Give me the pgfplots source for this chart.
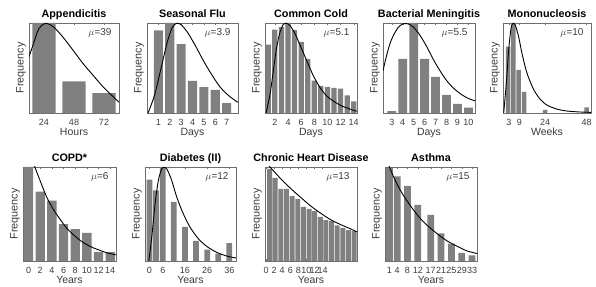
\documentclass[border=0pt]{standalone}
\usepackage{fontspec}
\setmainfont{Liberation Sans}
\usepackage{pgfplots}
\pgfplotsset{compat=1.18}
\definecolor{bargray}{RGB}{128,128,128}
\definecolor{framegray}{RGB}{110,110,110}
\definecolor{txtgray}{RGB}{60,60,60}
\pgfplotsset{
  panel/.style={
    scale only axis, ymin=0, ymax=1, ytick=\empty,
    axis line style={framegray, line width=0.5pt},
    tick align=inside, xtick pos=both, xticklabel pos=lower,
    major tick length=2pt,
    every tick/.append style={framegray, line width=0.4pt},
    xticklabel style={font=\fontsize{9}{10}\selectfont, text=txtgray, inner sep=0pt, yshift=-6pt},
    every axis x label/.style={at={(rel axis cs:0.5,0)}, anchor=north, inner sep=0pt, yshift=-15pt, font=\fontsize{10.5}{12}\selectfont, text=txtgray},
    every axis y label/.style={at={(rel axis cs:0,0.5)}, rotate=90, anchor=south, inner sep=3pt, font=\fontsize{10.8}{12}\selectfont, text=txtgray},
    ylabel={Frequency},
    every axis title/.style={at={(rel axis cs:0.5,1)}, anchor=base, inner sep=0pt, yshift=5.5pt, font=\bfseries\fontsize{10.8}{12}\selectfont},
  },
  bars/.style={ybar, fill=bargray, draw=none},
  fit/.style={black, line width=0.9pt, smooth},
}
\newcommand{\mulabel}[1]{\node[anchor=base east, xshift=-4pt, yshift=-13pt, font=\fontsize{10}{12}\selectfont, text=txtgray] at (rel axis cs:1,1) {$\mu$=#1};}
\begin{document}
\begin{tikzpicture}
\useasboundingbox (0,0) rectangle (596pt,286pt);
% Appendicitis
\begin{axis}[panel, at={(29pt,173pt)}, anchor=south west, width=90pt, height=90pt,
  xmin=12, xmax=84, xtick={24,48,72}, xticklabels={24,48,72}, xlabel={Hours}, title={Appendicitis}]
\addplot[bars, bar width=18.7] coordinates {(24,1.0) (48,0.35) (72,0.22)};
\addplot[fit] coordinates {(12,0.625) (14.7,0.735) (18.7,0.90) (21.4,0.963) (24.9,0.995) (28.2,0.985) (32.2,0.95) (39.0,0.846) (47.1,0.70) (55.2,0.55) (63.2,0.42) (71.3,0.29) (79.4,0.18) (84,0.12)};
\mulabel{39}
\end{axis}
% Seasonal Flu
\begin{axis}[panel, at={(147pt,173pt)}, anchor=south west, width=91pt, height=90pt,
  xmin=0, xmax=8, xtick={1,2,3,4,5,6,7}, xticklabels={1,2,3,4,5,6,7}, xlabel={Days}, title={Seasonal Flu}]
\addplot[bars, bar width=0.8] coordinates {(1,0.917) (2,1.0) (3,0.765) (4,0.356) (5,0.288) (6,0.258) (7,0.11)};
\addplot[fit] coordinates {(0.09,0) (0.66,0.197) (1.24,0.5) (1.81,0.8) (2.24,0.955) (2.6,0.995) (2.96,0.985) (3.54,0.9) (4.26,0.746) (4.98,0.576) (5.70,0.424) (6.42,0.29) (7.14,0.197) (7.86,0.129) (8,0.12)};
\mulabel{3.9}
\end{axis}
% Common Cold
\begin{axis}[panel, at={(265pt,173pt)}, anchor=south west, width=92pt, height=90pt,
  xmin=0.5, xmax=14.5, xtick={2,4,6,8,10,12,14}, xticklabels={2,4,6,8,10,12,14}, xlabel={Days}, title={Common Cold}]
\addplot[bars, bar width=0.8] coordinates {(1,0.76) (2,0.925) (3,0.955) (4,1.0) (5,0.92) (6,0.79) (7,0.60) (8,0.36) (9,0.30) (10,0.29) (11,0.28) (12,0.27) (13,0.195) (14,0.13)};
\addplot[fit] coordinates {(0.65,0) (1.26,0.206) (1.77,0.47) (2.28,0.73) (2.79,0.90) (3.30,0.985) (3.81,0.995) (4.32,0.97) (5.08,0.88) (5.85,0.75) (6.86,0.58) (7.88,0.41) (8.90,0.28) (9.92,0.187) (10.94,0.131) (11.96,0.086) (12.97,0.056) (13.99,0.03) (14.5,0.02)};
\mulabel{5.1}
\end{axis}
% Bacterial Meningitis
\begin{axis}[panel, at={(383pt,173pt)}, anchor=south west, width=92pt, height=90pt,
  xmin=2.2, xmax=10.6, xtick={3,4,5,6,7,8,9,10}, xticklabels={3,4,5,6,7,8,9,10}, xlabel={Days}, title={Bacterial Meningitis}]
\addplot[bars, bar width=0.8] coordinates {(3,0.02) (4,0.6) (5,1.0) (6,0.6) (7,0.40) (8,0.2) (9,0.10) (10,0.06)};
\addplot[fit] coordinates {(2.2,0.47) (2.51,0.63) (2.81,0.76) (3.12,0.855) (3.58,0.95) (4.03,0.99) (4.49,0.99) (4.95,0.957) (5.56,0.866) (6.18,0.74) (6.79,0.596) (7.40,0.47) (8.01,0.36) (8.62,0.278) (9.23,0.217) (9.85,0.17) (10.6,0.134)};
\mulabel{5.5}
\end{axis}
% Mononucleosis
\begin{axis}[panel, at={(503pt,173pt)}, anchor=south west, width=88pt, height=90pt,
  xmin=-0.4, xmax=50.5, xtick={3,9,24,48}, xticklabels={3,9,24,48}, xlabel={Weeks}, title={Mononucleosis}]
\addplot[bars, bar width=2.6] coordinates {(2.5,0.737) (5.6,1.0) (8.7,0.48) (11.8,0.234) (24,0.036) (48,0.062)};
\addplot[fit] coordinates {(0,0) (1.54,0.336) (2.89,0.70) (4.23,0.94) (5.38,0.995) (6.73,0.975) (8.64,0.847) (10.56,0.664) (13.44,0.445) (17.28,0.263) (21.12,0.153) (24.96,0.088) (30.7,0.044) (36.5,0.022) (44.2,0.011) (50.5,0.007)};
\mulabel{10}
\end{axis}
% COPD
\begin{axis}[panel, at={(23pt,25pt)}, anchor=south west, width=93pt, height=94pt,
  xmin=-0.95, xmax=15, xtick={0,2,4,6,8,10,12,14}, xticklabels={0,2,4,6,8,10,12,14}, xlabel={Years}, title={COPD*}]
\addplot[bars, bar width=1.6] coordinates {(0,1.0) (2,0.737) (4,0.642) (6,0.393) (8,0.34) (10,0.298) (12,0.095) (14,0.095)};
\addplot[fit] coordinates {(0.8,1.06) (1.09,1.0) (1.95,0.86) (3.09,0.684) (4.24,0.55) (5.39,0.446) (6.53,0.35) (7.68,0.28) (8.83,0.22) (9.97,0.175) (11.1,0.14) (12.3,0.112) (13.4,0.088) (15,0.065)};
\mulabel{6}
\end{axis}
% Diabetes
\begin{axis}[panel, at={(145pt,25pt)}, anchor=south west, width=91pt, height=94pt,
  xmin=-2, xmax=39, xtick={0,6,16,26,36}, xticklabels={0,6,16,26,36}, xlabel={Years}, title={Diabetes (II)}]
\addplot[bars, bar width=2.6] coordinates {(0,0.865) (3,0.752) (6,1.0) (11,0.628) (16,0.362) (21,0.213) (26,0.12) (31,0.078) (36,0.191)};
\addplot[fit] coordinates {(-0.3,0) (1.05,0.255) (2.55,0.61) (4.05,0.86) (5.55,0.98) (6.6,0.995) (7.8,0.98) (10.0,0.86) (12.3,0.68) (15.3,0.50) (18.3,0.36) (22.0,0.238) (25.8,0.156) (30.3,0.092) (34.8,0.053) (39,0.032)};
\mulabel{12}
\end{axis}
% Chronic Heart Disease
\begin{axis}[panel, at={(265pt,25pt)}, anchor=south west, width=92pt, height=94pt,
  xmin=-0.25, xmax=22.5, xtick={0,2,4,6,8,10,12,14}, xticklabels={0,2,4,6,8,10,12,14}, xlabel={Years}, title={Chronic Heart Disease}]
\addplot[bars, bar width=1.22] coordinates {(0.87,0.98) (2.27,0.883) (3.66,0.767) (5.06,0.767) (6.45,0.689) (7.85,0.661) (9.24,0.576) (10.64,0.555) (12.03,0.53) (13.43,0.47) (14.82,0.435) (16.22,0.424) (17.61,0.378) (19.01,0.353) (20.40,0.329) (21.80,0.318)};
\addplot[fit] coordinates {(0.5,1.03) (0.99,1.0) (3.47,0.883) (5.96,0.777) (8.44,0.682) (10.92,0.59) (13.4,0.512) (15.88,0.442) (18.36,0.389) (20.84,0.343) (22.5,0.31)};
\mulabel{13}
\end{axis}
% Asthma
\begin{axis}[panel, at={(385pt,25pt)}, anchor=south west, width=92pt, height=94pt,
  xmin=-0.7, xmax=34.9, xtick={1,4,8,12,17,21,25,29,33}, xticklabels={1,4,8,12,17,21,25,29,33}, xlabel={Years}, title={Asthma}]
\addplot[bars, bar width=2.6] coordinates {(1,0.99) (4,0.9) (8,0.80) (12,0.596) (17,0.49) (21,0.293) (25,0.186) (29,0.086) (33,0.061)};
\addplot[fit] coordinates {(0.5,1.04) (1,1.0) (2.55,0.9) (5.15,0.757) (7.74,0.643) (10.33,0.543) (12.92,0.454) (15.5,0.382) (18.1,0.321) (20.7,0.264) (23.3,0.214) (25.9,0.175) (28.5,0.139) (31.05,0.107) (34.9,0.079)};
\mulabel{15}
\end{axis}
\end{tikzpicture}
\end{document}
